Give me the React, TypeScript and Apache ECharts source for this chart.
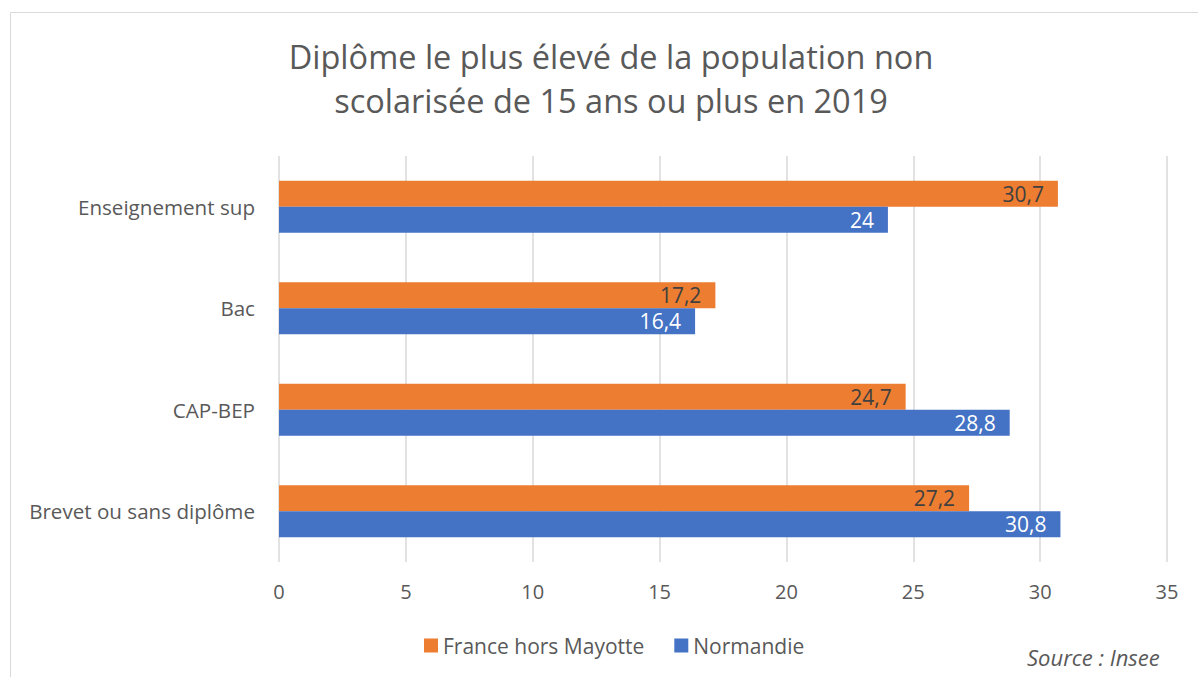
import React, { useEffect, useRef } from "react";
import * as echarts from "echarts";

const categories = ["Brevet ou sans diplôme", "CAP-BEP", "Bac", "Enseignement sup"];
const seriesFrance = [27.2, 24.7, 17.2, 30.7];
const seriesNormandie = [30.8, 28.8, 16.4, 24];
const seriesNames = ["France hors Mayotte", "Normandie"];
const titleLines = ["Diplôme le plus élevé de la population non", "scolarisée de 15 ans ou plus en 2019"];
const sourceText = "Source : Insee";

const FONT = "'Open Sans', 'Noto Sans', sans-serif";
const GREY = "#595959";

const fmt = (p: any) => String(p.value).replace(".", ",");

export default function App() {
  const ref = useRef<HTMLDivElement>(null);
  useEffect(() => {
    if (!ref.current) return;
    const chart = echarts.init(ref.current, undefined, { renderer: "svg" });
    chart.setOption({
      animation: false,
      backgroundColor: "#ffffff",
      textStyle: { fontFamily: FONT },
      title: {
        text: titleLines.join("\n"),
        left: 606,
        textAlign: "center",
        top: 29,
        textStyle: { fontFamily: FONT, fontSize: 32.5, fontWeight: "normal", color: GREY, lineHeight: 44 },
      },
      legend: {
        data: seriesNames,
        left: 419,
        top: 630,
        icon: "rect",
        itemWidth: 14,
        itemHeight: 14,
        itemGap: 30,
        itemStyle: { borderWidth: 0 },
        textStyle: { fontFamily: FONT, fontSize: 21, color: GREY },
      },
      grid: { left: 279, right: 31, top: 156, bottom: 115, containLabel: false },
      xAxis: {
        type: "value",
        min: 0,
        max: 35,
        interval: 5,
        axisLine: { show: false },
        axisTick: { show: false },
        axisLabel: { fontFamily: FONT, fontSize: 20, color: GREY, margin: 19 },
        splitLine: { show: true, lineStyle: { color: "#D9D9D9", width: 1.5 } },
      },
      yAxis: {
        type: "category",
        data: categories,
        axisLine: { show: false },
        axisTick: { show: false },
        axisLabel: { fontFamily: FONT, fontSize: 20.6, color: GREY, margin: 24 },
      },
      series: [
        {
          name: seriesNames[0],
          type: "bar",
          data: seriesFrance,
          itemStyle: { color: "#ED7D31" },
          barGap: "0%",
          barCategoryGap: "49%",
          label: {
            show: true,
            position: "insideRight",
            distance: 14,
            color: "#404040",
            fontFamily: FONT,
            fontSize: 21,
            formatter: fmt,
          },
        },
        {
          name: seriesNames[1],
          type: "bar",
          data: seriesNormandie,
          itemStyle: { color: "#4472C4" },
          barGap: "0%",
          barCategoryGap: "49%",
          label: {
            show: true,
            position: "insideRight",
            distance: 14,
            color: "#ffffff",
            fontFamily: FONT,
            fontSize: 21,
            formatter: fmt,
          },
        },
      ],
      graphic: [
        {
          type: "rect",
          shape: { x: 10.5, y: 12.5, width: 1300, height: 800 },
          style: { fill: "none", stroke: "#D9D9D9", lineWidth: 1 },
          silent: true,
        },
        {
          type: "text",
          x: 1027,
          y: 657,
          style: {
            text: sourceText,
            fontFamily: FONT,
            fontSize: 22,
            fontStyle: "italic",
            fill: GREY,
            verticalAlign: "middle",
          },
        },
      ],
    });
    return () => chart.dispose();
  }, []);
  return (
    <div
      ref={ref}
      style={{ position: "absolute", left: 0, top: 0, width: 1198, height: 677 }}
    />
  );
}
